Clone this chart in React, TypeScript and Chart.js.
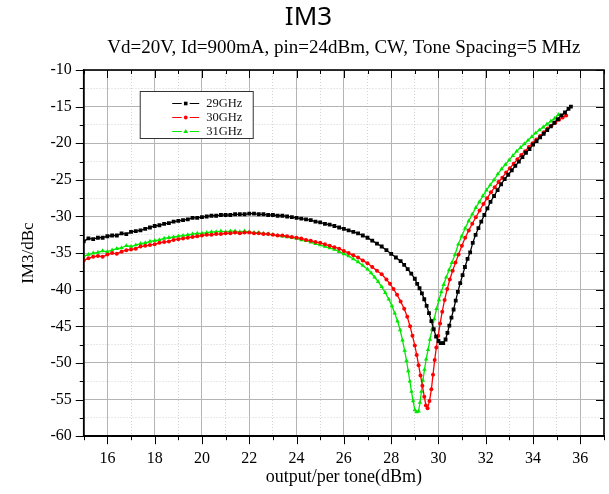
import React, { useEffect, useRef } from 'react';
import { Chart, registerables } from 'chart.js';

Chart.register(...registerables);

// ---- data ----
const seriesNames = ['29GHz', '30GHz', '31GHz'];

// shared output-power grid for the low-power region (dBm)
const xLow = [
  15.0, 15.2, 15.4, 15.6, 15.8, 16.0, 16.2, 16.4, 16.6, 16.8,
  17.0, 17.2, 17.4, 17.6, 17.8, 18.0, 18.2, 18.4, 18.6, 18.8,
  19.0, 19.2, 19.4, 19.6, 19.8, 20.0, 20.2, 20.4, 20.6, 20.8,
  21.0, 21.2, 21.4, 21.6, 21.8, 22.0, 22.2, 22.4, 22.6, 22.8,
  23.0, 23.2, 23.4, 23.6, 23.8, 24.0, 24.2, 24.4, 24.6, 24.8,
  25.0, 25.2, 25.4, 25.6, 25.8, 26.0, 26.2, 26.4,
];

const y29Low = [
  -33.4, -33.0, -33.1, -32.9, -32.9, -32.7, -32.6, -32.6, -32.3, -32.4,
  -32.1, -32.0, -31.9, -31.7, -31.5, -31.3, -31.2, -31.0, -30.9, -30.7,
  -30.6, -30.5, -30.4, -30.2, -30.2, -30.1, -30.0, -29.9, -29.9, -29.8,
  -29.8, -29.8, -29.7, -29.7, -29.7, -29.6, -29.6, -29.7, -29.7, -29.8,
  -29.8, -29.9, -29.9, -30.0, -30.1, -30.2, -30.3, -30.4, -30.5, -30.7,
  -30.8, -31.0, -31.1, -31.3, -31.5, -31.7, -31.9, -32.1,
];
const x29High = [
  26.6, 26.8, 27.0, 27.2, 27.4, 27.6, 27.8, 28.0, 28.2, 28.4,
  28.55, 28.7, 28.85, 29.0, 29.1, 29.2, 29.3, 29.4, 29.5, 29.6,
  29.7, 29.8, 29.9, 30.0, 30.1, 30.2, 30.3, 30.38, 30.46, 30.55,
  30.64, 30.73, 30.82, 30.92, 31.02, 31.12, 31.23, 31.34, 31.45, 31.57,
  31.69, 31.81, 31.94, 32.07, 32.2, 32.35, 32.5, 32.65, 32.8, 32.95,
  33.1, 33.25, 33.4, 33.55, 33.7, 33.85, 34.0, 34.15, 34.3, 34.45,
  34.6, 34.75, 34.9, 35.05, 35.2, 35.35, 35.5, 35.6,
];
const y29High = [
  -32.3, -32.6, -32.9, -33.3, -33.7, -34.1, -34.6, -35.1, -35.6, -36.1,
  -36.6, -37.2, -37.8, -38.5, -39.2, -39.8, -40.5, -41.3, -42.2, -43.2,
  -44.3, -45.4, -46.4, -47.0, -47.3, -47.3, -46.8, -45.9, -44.9, -43.8,
  -42.7, -41.5, -40.3, -39.1, -38.0, -36.9, -35.8, -34.9, -33.6, -32.5,
  -31.6, -30.7, -29.8, -28.9, -28.0, -27.2, -26.4, -25.6, -24.9, -24.3,
  -23.7, -23.1, -22.5, -21.9, -21.3, -20.8, -20.2, -19.7, -19.2, -18.7,
  -18.2, -17.7, -17.2, -16.7, -16.2, -15.8, -15.3, -15.0,
];

const y30Low = [
  -36.0, -35.7, -35.5, -35.4, -35.5, -35.2, -35.0, -35.1, -34.8, -34.6,
  -34.5, -34.4, -34.1, -34.0, -33.9, -33.8, -33.6, -33.5, -33.4, -33.2,
  -33.1, -33.0, -32.9, -32.8, -32.7, -32.6, -32.5, -32.5, -32.4, -32.4,
  -32.3, -32.3, -32.2, -32.3, -32.2, -32.2, -32.3, -32.3, -32.4, -32.4,
  -32.5, -32.6, -32.6, -32.7, -32.8, -32.9, -33.0, -33.2, -33.3, -33.5,
  -33.6, -33.8, -34.0, -34.2, -34.4, -34.7, -35.0, -35.3,
];
const x30High = [
  26.6, 26.8, 27.0, 27.2, 27.4, 27.6, 27.8, 27.95, 28.1, 28.25,
  28.4, 28.55, 28.68, 28.8, 28.9, 29.0, 29.08, 29.16, 29.24, 29.32,
  29.4, 29.47, 29.54, 29.62, 29.7, 29.77, 29.84, 29.91, 29.99, 30.07,
  30.16, 30.26, 30.37, 30.48, 30.6, 30.72, 30.85, 30.99, 31.13, 31.28,
  31.43, 31.58, 31.74, 31.9, 32.06, 32.22, 32.38, 32.54, 32.7, 32.86,
  33.02, 33.18, 33.34, 33.5, 33.66, 33.82, 33.98, 34.14, 34.3, 34.46,
  34.62, 34.78, 34.94, 35.1, 35.25, 35.4,
];
const y30High = [
  -35.6, -36.0, -36.4, -36.9, -37.4, -37.9, -38.6, -39.2, -39.9, -40.7,
  -41.6, -42.6, -43.7, -45.0, -46.3, -47.6, -48.9, -50.3, -51.7, -53.1,
  -54.6, -55.8, -56.2, -55.2, -53.6, -51.6, -49.6, -47.9, -46.3, -44.6,
  -43.0, -41.4, -39.9, -38.6, -37.4, -36.3, -35.2, -34.0, -32.9, -31.9,
  -31.0, -30.1, -29.2, -28.3, -27.5, -26.7, -26.0, -25.3, -24.7, -24.0,
  -23.4, -22.8, -22.2, -21.6, -21.1, -20.5, -20.0, -19.5, -19.0, -18.5,
  -18.0, -17.6, -17.2, -16.8, -16.5, -16.2,
];

const y31Low = [
  -35.4, -35.2, -35.0, -34.9, -34.7, -34.8, -34.6, -34.4, -34.3, -34.0,
  -34.1, -33.9, -33.7, -33.6, -33.4, -33.3, -33.2, -33.0, -32.9, -32.8,
  -32.7, -32.6, -32.5, -32.4, -32.3, -32.3, -32.2, -32.1, -32.1, -32.0,
  -32.1, -32.0, -32.0, -32.1, -32.0, -32.1, -32.2, -32.2, -32.3, -32.4,
  -32.5, -32.6, -32.7, -32.8, -32.9, -33.0, -33.2, -33.3, -33.5, -33.7,
  -33.9, -34.1, -34.3, -34.5, -34.8, -35.1, -35.4, -35.8,
];
const x31High = [
  26.6, 26.8, 27.0, 27.15, 27.3, 27.45, 27.6, 27.75, 27.9, 28.03,
  28.15, 28.27, 28.38, 28.48, 28.57, 28.65, 28.72, 28.79, 28.86, 28.93,
  29.0, 29.08, 29.16, 29.22, 29.28, 29.34, 29.41, 29.48, 29.56, 29.64,
  29.73, 29.82, 29.92, 30.02, 30.12, 30.22, 30.33, 30.45, 30.57, 30.7,
  30.84, 30.98, 31.13, 31.28, 31.43, 31.58, 31.73, 31.88, 32.03, 32.19,
  32.35, 32.51, 32.67, 32.83, 32.99, 33.15, 33.31, 33.47, 33.63, 33.79,
  33.95, 34.11, 34.27, 34.43, 34.59, 34.75, 34.91, 35.07,
];
const y31High = [
  -36.2, -36.7, -37.2, -37.7, -38.3, -38.9, -39.6, -40.4, -41.3, -42.2,
  -43.2, -44.3, -45.5, -46.9, -48.3, -49.7, -51.1, -52.5, -53.9, -55.2,
  -56.4, -56.7, -56.6, -55.4, -53.9, -52.4, -50.9, -49.5, -48.2, -46.8,
  -45.4, -44.0, -42.6, -41.4, -40.3, -39.3, -38.3, -37.3, -36.3, -35.2,
  -33.8, -32.7, -31.6, -30.6, -29.7, -28.8, -28.0, -27.2, -26.4, -25.7,
  -25.0, -24.2, -23.5, -22.9, -22.3, -21.7, -21.1, -20.6, -20.1, -19.6,
  -19.1, -18.6, -18.2, -17.8, -17.4, -17.0, -16.6, -16.1,
];

const xMin = 15;
const xMax = 37;
const yMin = -60;
const yMax = -10;

const titleText = 'IM3';
const subtitleText = 'Vd=20V, Id=900mA, pin=24dBm, CW, Tone Spacing=5 MHz';
const xTitle = 'output/per tone(dBm)';
const yTitle = 'IM3/dBc';

const toPoints = (xs: number[], ys: number[]) => xs.map((x, i) => ({ x, y: ys[i] }));

const isMajorX = (v: number) => Math.abs(v % 2) < 1e-6;
const isMajorY = (v: number) => Math.abs(v % 5) < 1e-6;

const SERIF = '"Liberation Serif", "DejaVu Serif", serif';

const framePlugin = {
  id: 'frameTicksLegend',
  afterDraw(chart: any) {
    const { ctx, chartArea: a, scales } = chart;
    const xs = scales.x;
    const ys = scales.y;
    ctx.save();
    ctx.strokeStyle = '#000';
    ctx.lineWidth = 1;
    ctx.beginPath();
    xs.ticks.forEach((t: any) => {
      const px = Math.round(xs.getPixelForValue(t.value)) + 0.5;
      const len = isMajorX(t.value) ? 8 : 4;
      ctx.moveTo(px, a.bottom);
      ctx.lineTo(px, a.bottom + len);
      ctx.moveTo(px, a.top);
      ctx.lineTo(px, a.top + len);
    });
    ys.ticks.forEach((t: any) => {
      const py = Math.round(ys.getPixelForValue(t.value)) + 0.5;
      const len = isMajorY(t.value) ? 8 : 4;
      ctx.moveTo(a.left - len, py);
      ctx.lineTo(a.left, py);
      ctx.moveTo(a.right - len, py);
      ctx.lineTo(a.right, py);
    });
    ctx.stroke();
    ctx.lineWidth = 1.6;
    ctx.strokeRect(a.left, a.top, a.right - a.left, a.bottom - a.top);

    // legend box inside the plot
    const lx = a.left + 56.5;
    const ly = a.top + 21.5;
    const lw = 113;
    const lh = 47;
    ctx.fillStyle = '#fff';
    ctx.fillRect(lx, ly, lw, lh);
    ctx.lineWidth = 1;
    ctx.strokeStyle = '#333';
    ctx.strokeRect(lx, ly, lw, lh);
    ctx.font = '12.5px ' + SERIF;
    ctx.textBaseline = 'middle';
    ctx.textAlign = 'left';
    chart.data.datasets.forEach((ds: any, i: number) => {
      const cy = ly + 12 + i * 14;
      const x0 = lx + 32;
      const x1 = lx + 59;
      const cx = (x0 + x1) / 2;
      ctx.strokeStyle = ds.borderColor;
      ctx.lineWidth = 1;
      ctx.beginPath();
      ctx.moveTo(x0, cy);
      ctx.lineTo(cx - 4, cy);
      ctx.moveTo(cx + 4, cy);
      ctx.lineTo(x1, cy);
      ctx.stroke();
      ctx.fillStyle = ds.backgroundColor;
      ctx.beginPath();
      if (ds.pointStyle === 'rect') {
        ctx.rect(cx - 1.8, cy - 1.8, 3.6, 3.6);
      } else if (ds.pointStyle === 'triangle') {
        ctx.moveTo(cx, cy - 2.6);
        ctx.lineTo(cx + 2.4, cy + 1.6);
        ctx.lineTo(cx - 2.4, cy + 1.6);
        ctx.closePath();
      } else {
        ctx.arc(cx, cy, 1.9, 0, Math.PI * 2);
      }
      ctx.fill();
      ctx.fillStyle = '#111';
      ctx.fillText(ds.label, lx + 66, cy + 0.5);
    });
    ctx.restore();
  },
};

export default function App() {
  const canvasRef = useRef<HTMLCanvasElement | null>(null);

  useEffect(() => {
    const canvas = canvasRef.current;
    if (!canvas) return;
    const colors = ['#000000', '#ff0000', '#00e800'];
    const styles = ['rect', 'circle', 'triangle'];
    const radii = [2.7, 2.0, 2.6];
    const sets = [
      toPoints([...xLow, ...x29High], [...y29Low, ...y29High]),
      toPoints([...xLow, ...x30High], [...y30Low, ...y30High]),
      toPoints([...xLow, ...x31High], [...y31Low, ...y31High]),
    ];
    const chart = new Chart(canvas, {
      type: 'line',
      data: {
        datasets: sets.map((d, i) => ({
          label: seriesNames[i],
          data: d,
          borderColor: colors[i],
          backgroundColor: colors[i],
          pointBackgroundColor: colors[i],
          pointBorderColor: colors[i],
          pointBorderWidth: 0,
          pointStyle: styles[i] as any,
          pointRadius: radii[i],
          borderWidth: 1.3,
          tension: 0,
          fill: false,
        })),
      },
      plugins: [framePlugin],
      options: {
        responsive: false,
        animation: false,
        events: [],
        layout: { padding: { top: 0, right: 2, bottom: 6, left: 10 } },
        plugins: {
          legend: { display: false },
          tooltip: { enabled: false },
          title: {
            display: true,
            text: titleText,
            color: '#000',
            font: { family: '"Noto Sans", "Open Sans", sans-serif', size: 26, weight: 'normal' },
            padding: { top: 2, bottom: 0 },
          },
          subtitle: {
            display: true,
            text: subtitleText,
            color: '#000',
            fullSize: false,
            font: { family: SERIF, size: 19, weight: 'normal' },
            padding: { top: 3, bottom: 11 },
          },
        },
        scales: {
          x: {
            type: 'linear',
            min: xMin,
            max: xMax,
            ticks: {
              stepSize: 1,
              autoSkip: false,
              maxRotation: 0,
              padding: 5,
              color: '#000',
              font: { family: SERIF, size: 16 },
              callback: (v: any) => (isMajorX(Number(v)) ? String(v) : ''),
            },
            grid: {
              color: (c: any) => (c.tick && isMajorX(c.tick.value) ? '#b4b4b4' : '#d2d2d2'),
              lineWidth: 1,
              drawTicks: true,
              tickLength: 8,
              tickColor: 'rgba(0,0,0,0)',
            },
            border: {
              display: true,
              color: '#000',
              width: 1.5,
              dash: (c: any) => (c.tick && !isMajorX(c.tick.value) ? [1, 2] : []),
            },
            title: {
              display: true,
              text: xTitle,
              color: '#000',
              font: { family: SERIF, size: 18 },
              padding: { top: -7, bottom: 0 },
            },
          },
          y: {
            type: 'linear',
            min: yMin,
            max: yMax,
            ticks: {
              stepSize: 2.5,
              autoSkip: false,
              padding: 4,
              color: '#000',
              font: { family: SERIF, size: 16 },
              callback: (v: any) => (isMajorY(Number(v)) ? String(v) : ''),
            },
            grid: {
              color: (c: any) => (c.tick && isMajorY(c.tick.value) ? '#b4b4b4' : '#d2d2d2'),
              lineWidth: 1,
              drawTicks: true,
              tickLength: 8,
              tickColor: 'rgba(0,0,0,0)',
            },
            border: {
              display: true,
              color: '#000',
              width: 1.5,
              dash: (c: any) => (c.tick && !isMajorY(c.tick.value) ? [1, 2] : []),
            },
            title: {
              display: true,
              text: yTitle,
              color: '#000',
              font: { family: SERIF, size: 17 },
              padding: { top: 8, bottom: 8 },
            },
          },
        },
      } as any,
    });
    return () => chart.destroy();
  }, []);

  return (
    <div style={{ position: 'absolute', left: 0, top: 0, width: 609, height: 494, background: '#fff' }}>
      <canvas ref={canvasRef} width={609} height={494} />
    </div>
  );
}
